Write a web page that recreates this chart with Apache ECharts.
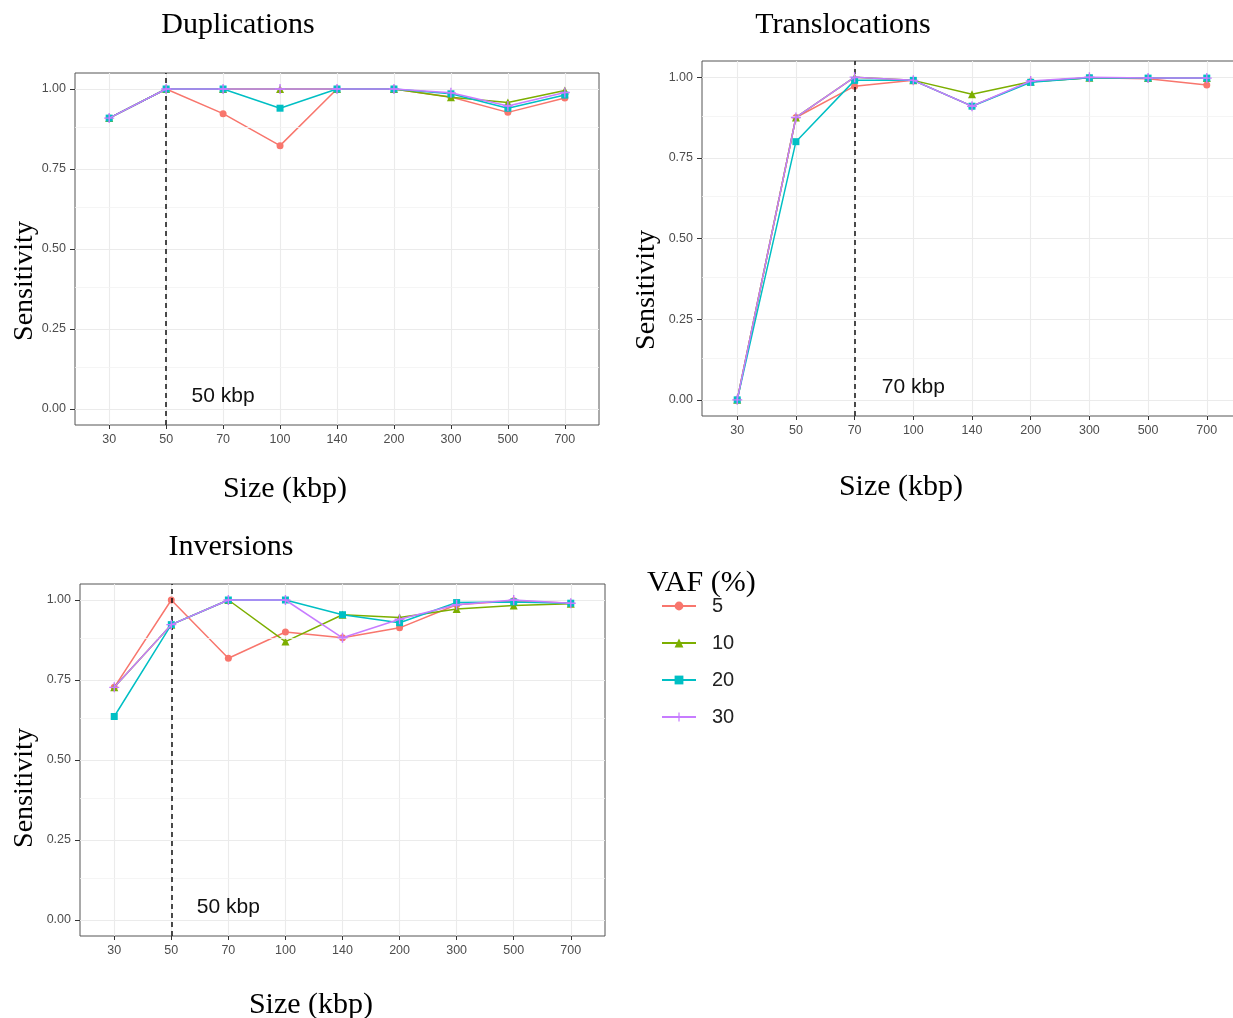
<!DOCTYPE html>
<html>
<head>
<meta charset="utf-8">
<script src="https://cdn.jsdelivr.net/npm/echarts@6/dist/echarts.min.js"></script>
<style>
html,body{margin:0;padding:0;background:#fff;}
#chart{width:1233px;height:1018px;}
</style>
</head>
<body>
<div id="chart"></div>
<script>
// ---------------- DATA ----------------
const categories = ['30','50','70','100','140','200','300','500','700'];
const vafLevels = ['5','10','20','30'];

// Duplications
const dup5  = [0.909, 1, 0.923, 0.823, 1, 1, 0.975, 0.927, 0.972];
const dup10 = [0.909, 1, 1,     1,     1, 1, 0.974, 0.958, 0.995];
const dup20 = [0.909, 1, 1,     0.94,  1, 1, 0.985, 0.940, 0.981];
const dup30 = [0.909, 1, 1,     1,     1, 1, 0.988, 0.947, 0.989];

// Translocations
const tra5  = [0, 0.875, 0.972, 0.99, 0.910, 0.986, 0.998, 0.995, 0.976];
const tra10 = [0, 0.875, 1,     0.99, 0.947, 0.986, 0.998, 0.997, 0.997];
const tra20 = [0, 0.800, 0.99,  0.99, 0.910, 0.984, 0.998, 0.997, 0.997];
const tra30 = [0, 0.875, 1,     0.99, 0.910, 0.988, 1,     0.997, 0.997];

// Inversions
const inv5  = [0.727, 1,     0.818, 0.90, 0.882, 0.913, 0.985, 0.998, 0.990];
const inv10 = [0.727, 0.923, 1,     0.87, 0.954, 0.945, 0.972, 0.983, 0.988];
const inv20 = [0.636, 0.923, 1,     1,    0.954, 0.929, 0.992, 0.994, 0.990];
const inv30 = [0.727, 0.923, 1,     1,    0.882, 0.940, 0.985, 1,     0.990];

const yTickValues = [0, 0.25, 0.5, 0.75, 1];
const yMinorValues = [0.125, 0.375, 0.625, 0.875];
const panelTitles = ['Duplications', 'Translocations', 'Inversions'];
const cutoffCats = ['50', '70', '50'];
const cutoffTexts = ['50 kbp', '70 kbp', '50 kbp'];
const cutoffTextCats = ['70', '100', '70'];
const cutoffTextValue = 0.04;

// ---------------- STYLE ----------------
const colors = ['#F8766D', '#7CAE00', '#00BFC4', '#C77CFF'];
const plusPath = 'path://M4.3,0H5.7V4.3H10V5.7H5.7V10H4.3V5.7H0V4.3H4.3Z';
const symbols = ['circle', 'triangle', 'rect', plusPath];
const symbolSizes = [7, 8, 7, 10];
const SANS = 'Liberation Sans';
const SERIF = 'Liberation Serif';

const grids = [
  {left: 75, top: 73, width: 524, height: 352},
  {left: 702, top: 61, width: 540, height: 355},
  {left: 80, top: 584, width: 525, height: 352}
];

const panels = [
  [dup5, dup10, dup20, dup30],
  [tra5, tra10, tra20, tra30],
  [inv5, inv10, inv20, inv30]
];

const xTickIdx = categories.map((c, i) => i);

const xAxes = grids.map((g, i) => ({
  type: 'value', gridIndex: i, min: -0.6, max: categories.length - 1 + 0.6,
  position: 'bottom',
  axisLine: {show: false, onZero: false},
  axisTick: {show: true, length: 4, lineStyle: {color: '#333', width: 1}, customValues: xTickIdx},
  axisLabel: {customValues: xTickIdx, formatter: v => categories[Math.round(v)], color: '#4D4D4D',
              fontFamily: SANS, fontSize: 12.5, margin: 8},
  splitLine: {show: true, lineStyle: {color: '#EBEBEB', width: 1.1}},
  minorSplitLine: {show: false}
}));

const yAxes = grids.map((g, i) => ({
  type: 'value', gridIndex: i, min: -0.05, max: 1.05,
  position: 'left',
  axisLine: {show: false, onZero: false},
  axisTick: {show: true, length: 5, lineStyle: {color: '#333', width: 1}, customValues: yTickValues},
  axisLabel: {customValues: yTickValues, formatter: v => v.toFixed(2), color: '#4D4D4D',
              fontFamily: SANS, fontSize: 12.5, margin: 9},
  splitLine: {show: true, lineStyle: {color: '#EBEBEB', width: 1.1}}
}));

const series = [];
panels.forEach((sets, g) => {
  sets.forEach((vals, k) => {
    const s = {
      type: 'line', name: vafLevels[k], xAxisIndex: g, yAxisIndex: g,
      data: vals.map((v, i) => [i, v]),
      symbol: symbols[k], symbolSize: symbolSizes[k], showSymbol: true,
      lineStyle: {color: colors[k], width: 1.5},
      itemStyle: {color: colors[k], borderWidth: 0},
      emphasis: {disabled: true}, animation: false, z: 3 + k
    };
    if (k === 0) {
      s.markLine = {
        silent: true, symbol: 'none', animation: false,
        label: {show: false},
        lineStyle: {color: '#F3F3F3', width: 0.8, type: 'solid'},
        data: yMinorValues.map(v => ({yAxis: v}))
      };
    }
    if (k === 3) {
      s.markLine = {
        silent: true, symbol: 'none', animation: false,
        label: {show: false},
        lineStyle: {color: '#111', width: 1.5, type: [5, 4]},
        data: [{xAxis: categories.indexOf(cutoffCats[g])}]
      };
      s.markPoint = {
        silent: true, animation: false,
        symbol: 'circle', symbolSize: 0,
        label: {show: true, position: 'inside', formatter: cutoffTexts[g], color: '#111',
                fontFamily: SANS, fontSize: 21},
        data: [{coord: [categories.indexOf(cutoffTextCats[g]), cutoffTextValue]}]
      };
    }
    series.push(s);
  });
});

function txt(text, x, y, size, rot, align) {
  return {
    type: 'text', x: x, y: y, rotation: rot || 0,
    style: {text: text, fill: '#000', font: size + 'px "' + SERIF + '"',
            textAlign: align || 'center', textVerticalAlign: 'middle'}
  };
}

const graphics = [
  txt(panelTitles[0], 238, 25, 30),
  txt(panelTitles[1], 843, 25, 30),
  txt(panelTitles[2], 231, 547, 30),
  txt('Size (kbp)', 285, 489, 30),
  txt('Size (kbp)', 901, 487, 30),
  txt('Size (kbp)', 311, 1005, 30),
  txt('Sensitivity', 25, 281, 28, Math.PI / 2),
  txt('Sensitivity', 647, 290, 28, Math.PI / 2),
  txt('Sensitivity', 25, 788, 28, Math.PI / 2),
  txt('VAF (%)', 647, 583, 30, 0, 'left')
];

const chart = echarts.init(document.getElementById('chart'), null, {renderer: 'canvas'});
chart.setOption({
  backgroundColor: '#fff',
  animation: false,
  grid: grids.map(g => Object.assign({show: true, borderColor: '#555', borderWidth: 1,
                                      backgroundColor: '#fff', containLabel: false,
                                      outerBoundsMode: 'none'}, g)),
  xAxis: xAxes,
  yAxis: yAxes,
  legend: {
    data: vafLevels, orient: 'vertical', left: 661, top: 596, padding: 0,
    itemWidth: 34, itemHeight: 11, itemGap: 17, selectedMode: false,
    textStyle: {fontFamily: SANS, fontSize: 20, color: '#222', padding: [0, 0, 0, 11]}
  },
  graphic: graphics,
  series: series
});
</script>
</body>
</html>
